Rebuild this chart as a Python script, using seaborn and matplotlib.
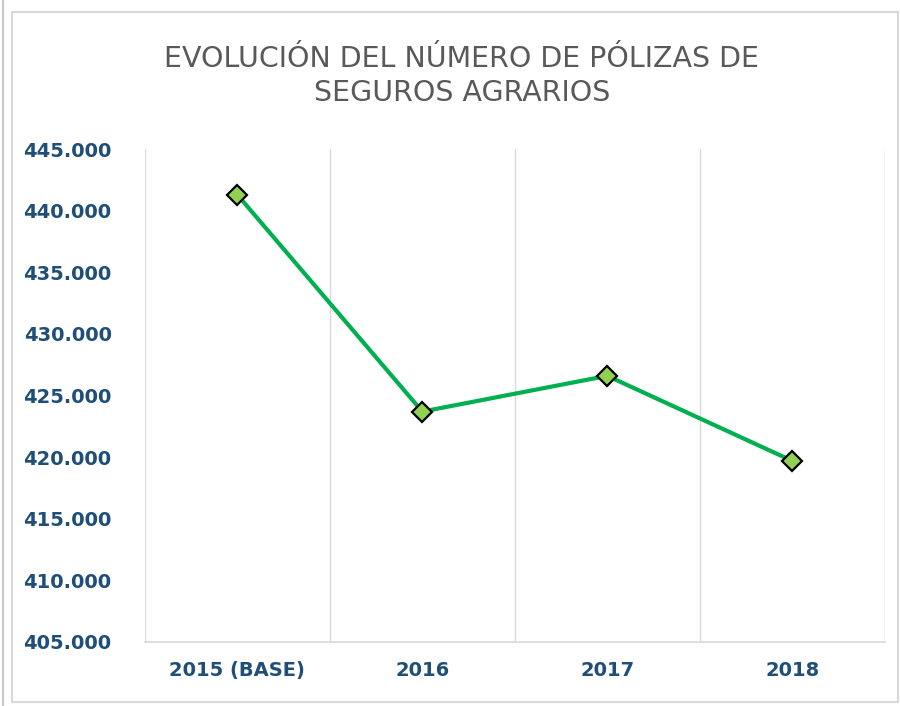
import matplotlib.pyplot as plt
import matplotlib.ticker as ticker
from matplotlib.patches import Rectangle
from matplotlib.lines import Line2D
import pandas as pd
import seaborn as sns

years = ['2015 (BASE)', '2016', '2017', '2018']
polizas = [441300, 423700, 426600, 419700]
y_ticks = [405000, 410000, 415000, 420000, 425000, 430000, 435000, 440000, 445000]

df = pd.DataFrame({'year': years, 'polizas': polizas})

sns.set_theme(style="white")
plt.rcParams['font.family'] = ['DejaVu Sans']

fig = plt.figure(figsize=(9, 7.06), dpi=100)
ax = fig.add_axes([0.161, 0.0907, 0.822, 0.698])

sns.lineplot(data=df, x='year', y='polizas', sort=False, ax=ax,
             color='#00B050', linewidth=3, marker='D', markersize=10,
             markerfacecolor='#92D050', markeredgecolor='black', markeredgewidth=1.6)

ax.set_xlim(-0.5, 3.5)
ax.set_ylim(405000, 445000)
ax.set_yticks(y_ticks)
ax.yaxis.set_major_formatter(ticker.FuncFormatter(lambda v, p: f'{int(v):,}'.replace(',', '.')))
ax.set_xticks([-0.5, 0.5, 1.5, 2.5, 3.5], minor=True)
ax.grid(False)
ax.grid(which='minor', axis='x', color='#D9D9D9', linewidth=1)
ax.tick_params(which='both', length=0)
ax.tick_params(axis='y', pad=24)
ax.tick_params(axis='x', pad=14)

for lbl in ax.get_yticklabels():
    lbl.set_color('#1F4E79')
    lbl.set_fontsize(14)
    lbl.set_fontweight('bold')
for lbl in ax.get_xticklabels():
    lbl.set_color('#1F4E79')
    lbl.set_fontsize(14)
    lbl.set_fontweight('bold')

ax.set_xlabel('')
ax.set_ylabel('')
for side in ['top', 'left', 'right']:
    ax.spines[side].set_visible(False)
ax.spines['bottom'].set_color('#D9D9D9')
ax.spines['bottom'].set_linewidth(1.2)

fig.text(0.513, 0.917, 'EVOLUCIÓN DEL NÚMERO DE PÓLIZAS DE', ha='center', va='center',
         fontsize=20.5, color='#595959')
fig.text(0.513, 0.868, 'SEGUROS AGRARIOS', ha='center', va='center',
         fontsize=20.5, color='#595959')

# chart frame
fig.patches.append(Rectangle((12 / 900, 4 / 706), 886 / 900, 690 / 706, transform=fig.transFigure,
                             fill=False, edgecolor='#D9D9D9', linewidth=1.5))
fig.lines.append(Line2D([3 / 900, 3 / 900], [0, 1], transform=fig.transFigure,
                        color='#C8C8C8', linewidth=1.5))

plt.savefig('out.png', dpi=100)
